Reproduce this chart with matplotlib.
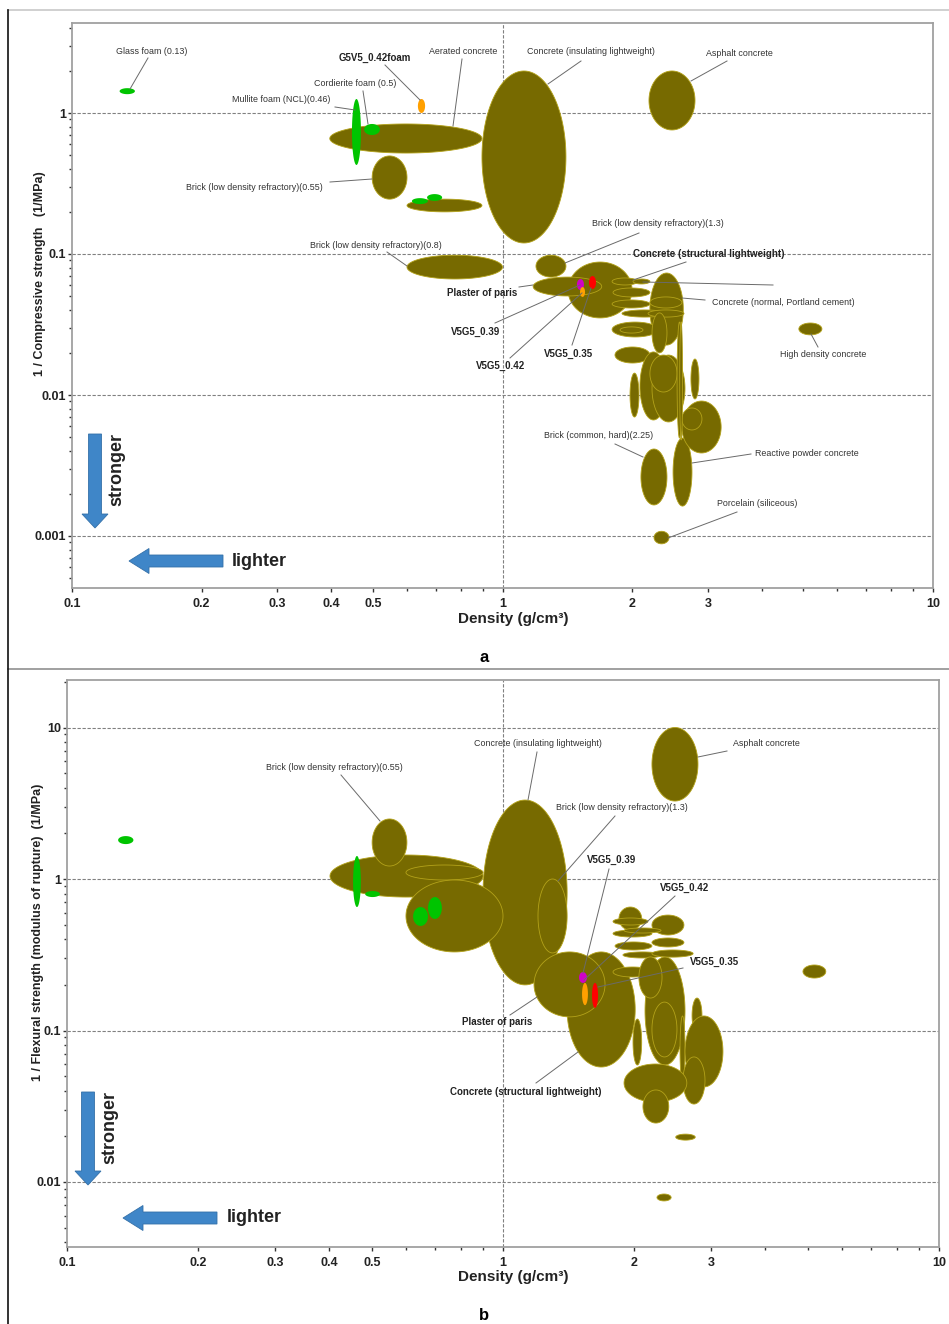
import numpy as np
import matplotlib
matplotlib.use("Agg")
import matplotlib.pyplot as plt
from matplotlib.patches import FancyArrow

plt.rcParams['font.family'] = ['Liberation Sans', 'DejaVu Sans']

W, H = 949, 1324
OLIVE = '#776A00'
EDGE = '#B3A21A'
COLS = {'o': OLIVE, 'g': '#00C400', 'y': '#FFA000', 'm': '#D000C8', 'r': '#FF0000'}

# ---------------- data: panel a (density g/cm3 range, 1/compressive strength range) --------
a_kind = ['o', 'o', 'o', 'o', 'o', 'o', 'o', 'o', 'o', 'o', 'o', 'o', 'o',
          'o', 'o', 'o', 'o', 'o', 'o', 'o', 'o', 'o', 'o', 'o', 'o', 'o', 'o',
          'o', 'o', 'o', 'o', 'o', 'o', 'o',
          'g', 'g', 'g', 'g', 'g', 'y', 'm', 'y', 'r']
a_xlo = [0.397, 0.498, 0.600, 0.600, 0.896, 2.189, 4.88, 2.249, 2.097, 2.49, 2.61, 2.61, 2.20,
         1.42, 1.196, 1.178, 1.797, 2.01, 1.806, 1.797, 2.20, 1.895, 2.178, 1.797, 1.875, 2.225, 1.825,
         2.086, 2.225, 2.20, 2.544, 1.978, 2.74, 2.58,
         0.129, 0.447, 0.477, 0.616, 0.668, 0.636, 1.489, 1.514, 1.588]
a_xhi = [0.896, 0.600, 0.896, 1.000, 1.404, 2.80, 5.52, 2.437, 2.41, 2.755, 3.22, 2.906, 2.63,
         2.00, 1.404, 1.70, 2.064, 2.20, 2.20, 2.20, 2.61, 2.41, 2.64, 2.297, 2.12, 2.41, 2.20,
         2.41, 2.654, 2.544, 2.61, 2.075, 2.86, 2.62,
         0.140, 0.469, 0.519, 0.671, 0.724, 0.661, 1.546, 1.555, 1.649]
a_ylo = [0.520, 0.245, 0.199, 0.0665, 0.1197, 0.758, 0.0267, 0.00088, 0.00166, 0.00163, 0.00388, 0.00565, 0.0226,
         0.0352, 0.0686, 0.0504, 0.0603, 0.0613, 0.0496, 0.0414, 0.0414, 0.0357, 0.0357, 0.0258, 0.0275, 0.0199, 0.01686,
         0.00665, 0.00644, 0.0105, 0.00495, 0.00698, 0.00937, 0.0048,
         1.36, 0.428, 0.698, 0.226, 0.238, 1.00, 0.0555, 0.0496, 0.0565]
a_yhi = [0.836, 0.496, 0.245, 0.098, 1.986, 1.986, 0.0324, 0.00108, 0.00414, 0.00495, 0.00906, 0.00809, 0.0733,
         0.0877, 0.098, 0.0686, 0.0676, 0.0665, 0.0574, 0.0472, 0.0496, 0.0401, 0.0401, 0.0329, 0.0304, 0.0382, 0.0219,
         0.0202, 0.0192, 0.0192, 0.0329, 0.0143, 0.0180, 0.033,
         1.50, 1.257, 0.836, 0.249, 0.266, 1.257, 0.0665, 0.0583, 0.0698]

# ---------------- data: panel b (density range, 1/flexural strength range) ----------------
b_kind = ['o', 'o', 'o', 'o', 'o', 'o', 'o', 'o', 'o', 'o',
          'o', 'o', 'o', 'o', 'o', 'o', 'o', 'o', 'o', 'o', 'o', 'o', 'o', 'o', 'o', 'o', 'o',
          'o', 'o', 'o', 'o', 'o',
          'g', 'g', 'g', 'g', 'g', 'm', 'y', 'r']
b_xlo = [0.90, 0.401, 0.501, 0.599, 0.599, 1.203, 2.196, 4.875, 1.403, 1.178,
         2.117, 2.196, 1.845, 1.788, 1.788, 1.895, 2.196, 1.807, 1.884, 2.196, 1.788, 2.05, 1.987, 2.547, 2.714, 2.615, 2.587,
         1.895, 2.094, 2.49, 2.255, 2.196,
         0.131, 0.453, 0.483, 0.622, 0.673, 1.494, 1.518, 1.600]
b_xhi = [1.403, 0.900, 0.602, 0.900, 1.000, 1.403, 2.80, 5.50, 2.01, 1.714,
         2.615, 2.60, 2.08, 2.15, 2.196, 2.304, 2.60, 2.196, 2.316, 2.729, 2.196, 2.316, 2.08, 2.615, 2.86, 3.195, 2.906,
         2.64, 2.40, 2.76, 2.43, 2.506,
         0.142, 0.472, 0.522, 0.673, 0.724, 1.558, 1.566, 1.652]
b_ylo = [0.20, 0.76, 1.218, 0.985, 0.33, 0.325, 3.27, 0.222, 0.0574, 0.123,
         0.0592, 0.427, 0.46, 0.497, 0.414, 0.44, 0.356, 0.34, 0.301, 0.305, 0.2255, 0.1638, 0.0592, 0.045, 0.0963, 0.0424, 0.0327,
         0.0337, 0.0245, 0.0189, 0.0075, 0.0669,
         1.70, 0.653, 0.76, 0.49, 0.545, 0.206, 0.147, 0.141]
b_yhi = [3.32, 1.44, 2.49, 1.237, 0.985, 1.00, 10.0, 0.2706, 0.33, 0.33,
         0.306, 0.578, 0.653, 0.553, 0.46, 0.475, 0.408, 0.384, 0.33, 0.34, 0.2625, 0.306, 0.119, 0.1247, 0.1638, 0.1247, 0.0669,
         0.0601, 0.0405, 0.0207, 0.00833, 0.154,
         1.92, 1.419, 0.833, 0.653, 0.76, 0.243, 0.206, 0.206]

x_major = [0.1, 0.2, 0.3, 0.4, 0.5, 1, 2, 3, 10]
x_major_lbl = ['0.1', '0.2', '0.3', '0.4', '0.5', '1', '2', '3', '10']
x_minor = [0.6, 0.7, 0.8, 0.9, 4, 5, 6, 7, 8, 9]
a_yticks = [0.001, 0.01, 0.1, 1]
a_ylbl = ['0.001', '0.01', '0.1', '1']
b_yticks = [0.01, 0.1, 1, 10]
b_ylbl = ['0.01', '0.1', '1', '10']

# labels: (text, bold, centre px, line start px, line end px)
a_notes = [
    ('Glass foam (0.13)', False, (152, 51), (148, 58), (130, 89)),
    ('G5V5_0.42foam', True, (375, 58), (385, 65), (420, 100)),
    ('Aerated concrete', False, (463, 52), (462, 59), (453, 126)),
    ('Cordierite foam (0.5)', False, (355, 83), (363, 91), (368, 124)),
    ('Mullite foam (NCL)(0.46)', False, (281, 100), (335, 107), (355, 110)),
    ('Brick (low density refractory)(0.55)', False, (254, 187), (330, 182), (372, 179)),
    ('Brick (low density refractory)(0.8)', False, (376, 245), (387, 252), (407, 266)),
    ('Concrete (insulating lightweight)', False, (591, 52), (581, 61), (548, 84)),
    ('Asphalt concrete', False, (739, 53), (727, 61), (691, 81)),
    ('Brick (low density refractory)(1.3)', False, (658, 224), (639, 233), (565, 263)),
    ('Concrete (structural lightweight)', True, (709, 254), (686, 262), (633, 280)),
    ('', False, (773, 285), (643, 282), (773, 285)),
    ('Concrete (normal, Portland cement)', False, (783, 302), (705, 300), (682, 298)),
    ('Plaster of paris', True, (482, 293), (519, 287), (533, 285)),
    ('V5G5_0.39', True, (476, 332), (495, 323), (580, 285)),
    ('V5G5_0.42', True, (501, 366), (510, 358), (582, 293)),
    ('V5G5_0.35', True, (569, 354), (572, 345), (591, 288)),
    ('High density concrete', False, (823, 354), (818, 347), (811, 334)),
    ('Brick (common, hard)(2.25)', False, (599, 436), (615, 444), (643, 457)),
    ('Reactive powder concrete', False, (807, 454), (751, 454), (692, 463)),
    ('Porcelain (siliceous)', False, (757, 504), (737, 512), (668, 538)),
]
b_notes = [
    ('Brick (low density refractory)(0.55)', False, (334, 767), (341, 775), (380, 821)),
    ('Concrete (insulating lightweight)', False, (538, 743), (537, 752), (528, 800)),
    ('Asphalt concrete', False, (766, 744), (727, 751), (698, 757)),
    ('Brick (low density refractory)(1.3)', False, (622, 808), (615, 816), (558, 881)),
    ('V5G5_0.39', True, (612, 860), (609, 869), (583, 973)),
    ('V5G5_0.42', True, (685, 888), (675, 896), (584, 980)),
    ('V5G5_0.35', True, (715, 962), (683, 968), (598, 987)),
    ('Plaster of paris', True, (497, 1022), (510, 1015), (537, 997)),
    ('Concrete (structural lightweight)', True, (526, 1092), (536, 1083), (578, 1052)),
]


def F(px, py):
    return (px / W, 1 - py / H)


fig = plt.figure(figsize=(W / 100, H / 100), dpi=100)


def make_axes(box, ylim, yt, ylbl):
    l, t, r, b = box
    ax = fig.add_axes([l / W, 1 - b / H, (r - l) / W, (b - t) / H])
    ax.set_xscale('log')
    ax.set_yscale('log')
    ax.set_xlim(0.1, 10)
    ax.set_ylim(*ylim)
    ax.set_xticks(x_major)
    ax.set_xticklabels(x_major_lbl)
    ax.set_xticks(x_minor, minor=True)
    ax.set_xticklabels([], minor=True)
    ax.set_yticks(yt)
    ax.set_yticklabels(ylbl)
    ym = [m * d for d in [0.0001, 0.001, 0.01, 0.1, 1, 10] for m in range(2, 10)]
    ym = [v for v in ym if ylim[0] < v < ylim[1]]
    ax.set_yticks(ym, minor=True)
    ax.set_yticklabels([], minor=True)
    ax.tick_params(which='major', length=3, width=1, color='#333333', labelsize=9)
    ax.tick_params(axis='x', which='major', pad=4)
    ax.tick_params(axis='y', which='major', pad=1)
    ax.tick_params(which='minor', length=2, width=1, color='#333333')
    for lb in ax.get_xticklabels() + ax.get_yticklabels():
        lb.set_fontweight('bold')
        lb.set_color('#222222')
    for s in ax.spines.values():
        s.set_color('#A0A0A0')
        s.set_linewidth(1.3)
    for v in yt:
        ax.axhline(v, color='#808080', lw=0.8, ls=(0, (3, 1.5)), zorder=0.5)
    ax.axvline(1, color='#808080', lw=0.8, ls=(0, (3, 1.5)), zorder=0.5)
    return ax


def draw_ellipses(ax, kind, xlo, xhi, ylo, yhi):
    t = np.linspace(0, 2 * np.pi, 160)
    for k, x0, x1, y0, y1 in zip(kind, xlo, xhi, ylo, yhi):
        cx, rx = (np.log10(x0) + np.log10(x1)) / 2, (np.log10(x1) - np.log10(x0)) / 2
        cy, ry = (np.log10(y0) + np.log10(y1)) / 2, (np.log10(y1) - np.log10(y0)) / 2
        xs = 10 ** (cx + rx * np.cos(t))
        ys = 10 ** (cy + ry * np.sin(t))
        if k == 'o':
            ax.fill(xs, ys, fc=OLIVE, ec=EDGE, lw=0.6, zorder=2)
        else:
            ax.fill(xs, ys, fc=COLS[k], ec='none', zorder=3)


def draw_notes(notes):
    for txt, bold, c, p0, p1 in notes:
        fig.add_artist(plt.Line2D([p0[0] / W, p1[0] / W], [1 - p0[1] / H, 1 - p1[1] / H],
                                  color='#6A6A6A', lw=0.7, zorder=5))
        if txt:
            fig.text(*F(*c), txt, ha='center', va='center',
                     fontsize=7 if bold else 6.4, fontweight='bold' if bold else 'normal',
                     color='#222222' if bold else '#333333', zorder=6)


def arrows(vx, vtop, vtip, hy, hright, htip, s_pos, l_pos):
    # vertical arrow (stronger)
    x0, y0 = F(vx, vtop)
    _, y1 = F(vx, vtip)
    fig.add_artist(FancyArrow(x0, y0, 0, y1 - y0, width=13 / W, head_width=26 / W,
                              head_length=14 / H, length_includes_head=True,
                              fc='#3F86C8', ec='#3470A8', lw=0.6, transform=fig.transFigure))
    fig.text(*F(*s_pos), 'stronger', rotation=90, ha='center', va='center',
             fontsize=13, fontweight='bold', color='#222222')
    x0, y0 = F(hright, hy)
    x1, _ = F(htip, hy)
    fig.add_artist(FancyArrow(x0, y0, x1 - x0, 0, width=12 / H, head_width=25 / H,
                              head_length=20 / W, length_includes_head=True,
                              fc='#3F86C8', ec='#3470A8', lw=0.6, transform=fig.transFigure))
    fig.text(*F(*l_pos), 'lighter', ha='left', va='center',
             fontsize=13, fontweight='bold', color='#222222')


# ---------------- panel a ----------------
axa = make_axes((72, 23, 933, 588), (10 ** (-475 / 141), 10 ** (90 / 141)), a_yticks, a_ylbl)
draw_ellipses(axa, a_kind, a_xlo, a_xhi, a_ylo, a_yhi)
draw_notes(a_notes)
fig.text(*F(513, 619), 'Density (g/cm\u00b3)', ha='center', va='center',
         fontsize=11, fontweight='bold', color='#222222')
fig.text(*F(40, 274), '1 / Compressive strength   (1/MPa)', rotation=90, ha='center', va='center',
         fontsize=9, fontweight='bold', color='#222222')
arrows(95, 434, 528, 561, 223, 129, (117, 470), (232, 561))
fig.text(*F(484, 657), 'a', ha='center', va='center', fontsize=12, fontweight='bold')

# ---------------- panel b ----------------
axb = make_axes((67, 680, 939, 1247), (10 ** ((879 - 1247) / 151.5), 10 ** ((879 - 680) / 151.5)),
                b_yticks, b_ylbl)
draw_ellipses(axb, b_kind, b_xlo, b_xhi, b_ylo, b_yhi)
draw_notes(b_notes)
fig.text(*F(513, 1277), 'Density (g/cm\u00b3)', ha='center', va='center',
         fontsize=11, fontweight='bold', color='#222222')
fig.text(*F(38, 932), '1 / Flexural strength (modulus of rupture)  (1/MPa)', rotation=90,
         ha='center', va='center', fontsize=9, fontweight='bold', color='#222222')
arrows(88, 1092, 1185, 1218, 217, 123, (110, 1128), (227, 1218))
fig.text(*F(484, 1315), 'b', ha='center', va='center', fontsize=12, fontweight='bold')

# frame lines
for seg, col in [(((8, 949), (10, 10)), '#C8C8C8'), (((8, 949), (669, 669)), '#909090'),
                 (((8, 8), (10, 1324)), '#111111')]:
    xs, ys = seg
    fig.add_artist(plt.Line2D([x / W for x in xs], [1 - y / H for y in ys], color=col, lw=1.2))

fig.savefig('out.png', dpi=100)
